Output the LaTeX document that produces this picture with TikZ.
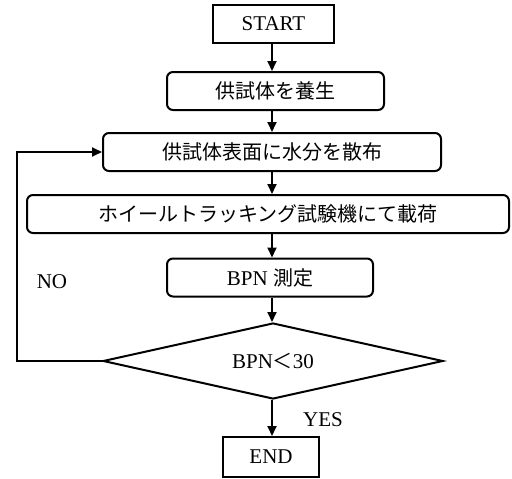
\documentclass[tikz,border=0pt]{standalone}
\usepackage{fontspec}
\setmainfont{Liberation Serif}
\newfontfamily\jpfam{Noto Sans CJK JP}
\newcommand{\jp}{\jpfam\fontsize{20}{24}\selectfont}
\usetikzlibrary{shapes.geometric,arrows.meta}
\begin{document}
\begin{tikzpicture}[x=1pt,y=-1pt,
  every node/.style={font=\fontsize{21}{25}\selectfont, inner sep=0pt},
  termbox/.style={draw, line width=2pt, minimum height=38pt},
  procbox/.style={draw, line width=2pt, rounded corners=6pt, minimum height=38pt},
  decbox/.style={draw, line width=2pt, diamond, aspect=4.47, minimum width=340pt, minimum height=76pt},
  arr/.style={line width=2pt, -{Triangle[length=10pt,width=9pt]}},
  lbl/.style={font=\fontsize{21}{25}\selectfont}]
\useasboundingbox (0,0) rectangle (512,479);
\coordinate (spine) at (272,0);
\node[termbox, minimum width=121pt] (start) at (273.5,24) {START};
\node[procbox, minimum width=217pt] (yousei) at (275.5,91) {\jp 供試体を養生};
\node[procbox, minimum width=338pt] (sanpu) at (272,152) {\jp 供試体表面に水分を散布};
\node[procbox, minimum width=482pt] (load) at (268,214) {\jp ホイールトラッキング試験機にて載荷};
\node[procbox, minimum width=206pt] (bpn) at (270,277.5) {BPN {\jp 測定}};
\node[decbox] (dec) at (273,361) {BPN{\jp ＜}30};
\node[termbox, minimum width=96pt, minimum height=40pt] (end) at (271,457) {END};
\draw[arr] (start.south -| spine) -- (yousei.north -| spine);
\draw[arr] (yousei.south -| spine) -- (sanpu.north -| spine);
\draw[arr] (sanpu.south -| spine) -- (load.north -| spine);
\draw[arr] (load.south -| spine) -- (bpn.north -| spine);
\draw[arr] (bpn.south -| spine) -- (dec.north -| spine);
\draw[arr] (dec.south -| spine) -- (end.north -| spine);
\coordinate (loopcorner) at (17,361);
\draw[arr] (dec.west) -- (loopcorner) |- (sanpu.west);
\node[lbl] (no) at (52,282) {NO};
\node[lbl] (yes) at (323,420) {YES};
\end{tikzpicture}
\end{document}
